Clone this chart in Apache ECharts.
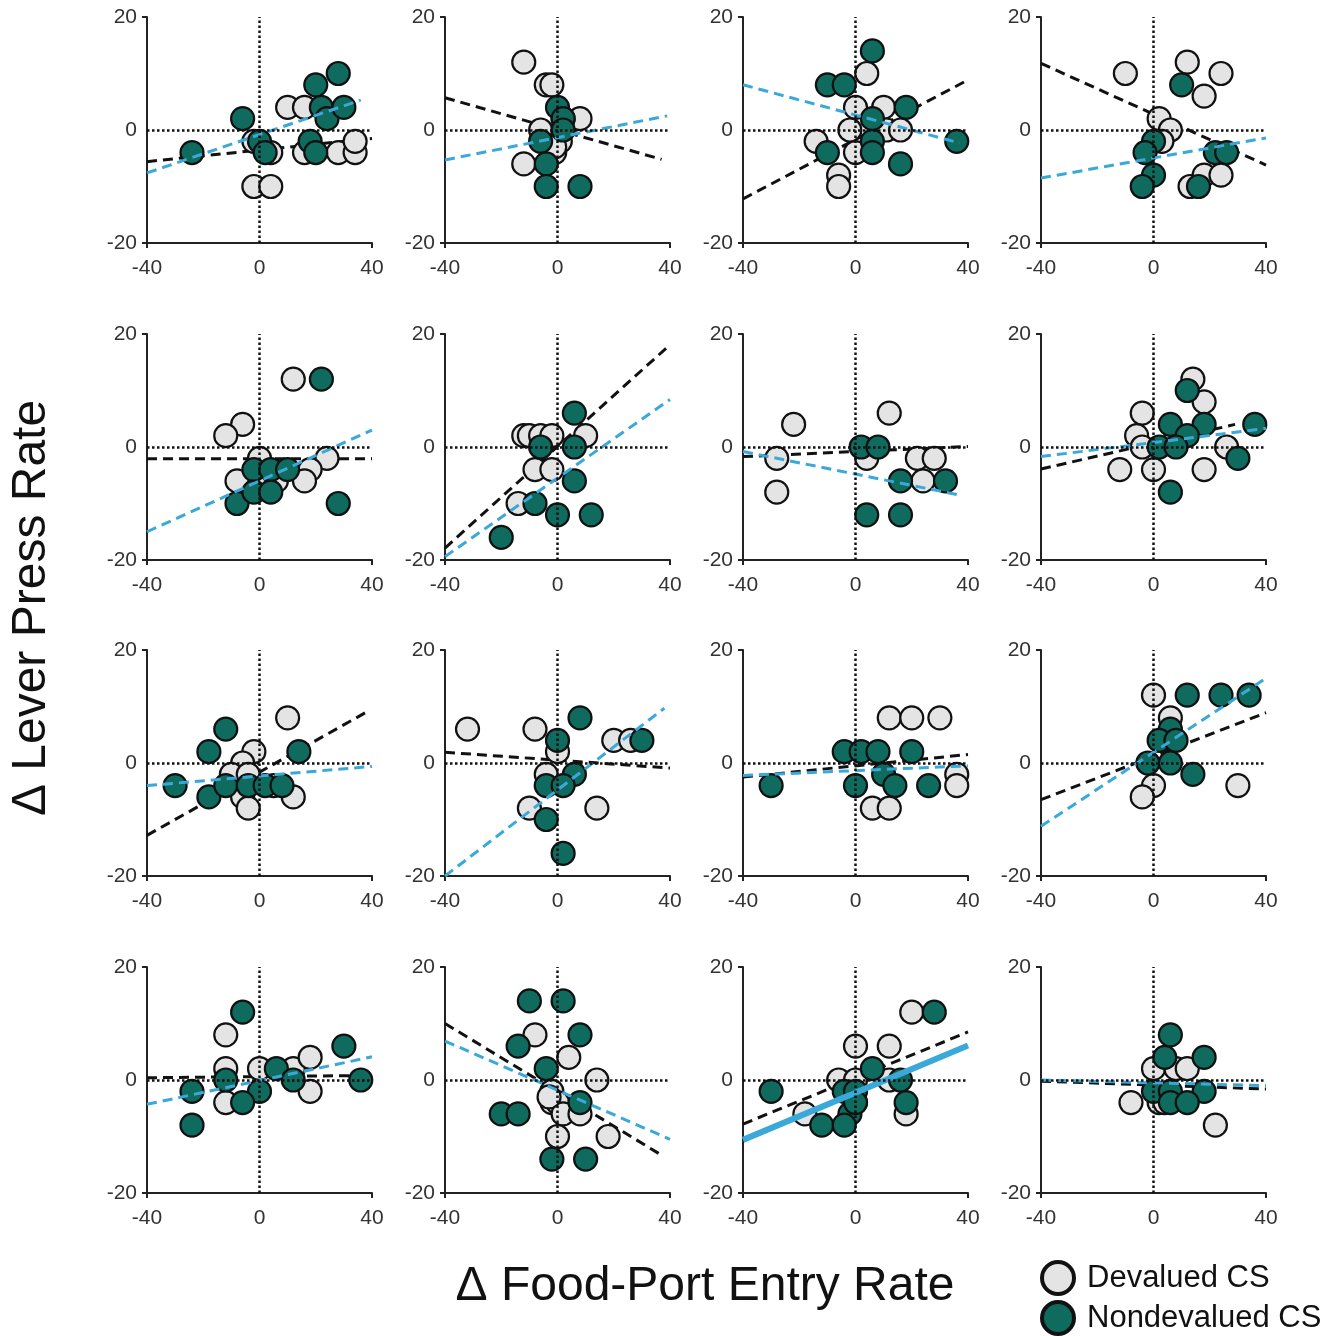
<!DOCTYPE html>
<html lang="en">
<head>
<meta charset="UTF-8">
<title>Lever press vs food-port entry</title>
<style>html,body{margin:0;padding:0;background:#fff}</style>
</head>
<body>
<div id="main" style="width:1344px;height:1336px"></div>
<script src="https://cdn.jsdelivr.net/npm/echarts@6/dist/echarts.min.js"></script>
<script>
// one entry per panel (row by row), points as [food-port change, lever press change]
var devalued = [
    [[10,4],[16,4],[-2,-2],[4,-4],[16,-4],[28,-4],[34,-4],[34,-2],[-2,-10],[4,-10]],
    [[-12,12],[-4,8],[-2,8],[8,2],[-6,0],[-12,-6],[-1,-4],[1,-2],[2,2],[-1,-3]],
    [[4,10],[0,4],[10,4],[-2,0],[11,0],[16,0],[-14,-2],[0,-4],[-6,-8],[-6,-10]],
    [[-10,10],[12,12],[24,10],[18,6],[2,2],[6,0],[3,-2],[18,-8],[24,-8],[13,-10]],
    [[12,12],[-6,4],[-12,2],[0,-2],[24,-2],[18,-4],[16,-6],[-8,-6],[2,-6],[6,-6]],
    [[-12,2],[-10,2],[-6,2],[-2,2],[10,2],[-8,-4],[-2,-4],[-14,-10]],
    [[-22,4],[-28,-2],[-28,-8],[12,6],[4,-2],[22,-2],[28,-2],[24,-6]],
    [[14,12],[18,8],[-4,6],[-6,2],[-4,0],[-12,-4],[0,-4],[18,-4],[26,0],[8,2]],
    [[10,8],[-2,2],[-6,0],[-10,-2],[-4,-2],[-6,-6],[-4,-8],[12,-6],[5,-4]],
    [[-32,6],[-8,6],[0,2],[20,4],[26,4],[-4,-2],[-10,-8],[14,-8]],
    [[12,8],[20,8],[30,8],[36,-2],[36,-4],[6,-8],[12,-8]],
    [[0,12],[6,8],[0,-4],[-4,-6],[30,-4]],
    [[-12,8],[-12,2],[0,2],[12,2],[18,4],[18,-2],[-12,-4]],
    [[-8,8],[4,4],[14,0],[-2,-2],[-2,-4],[0,-4],[2,-6],[8,-6],[0,-10],[18,-10],[-3,-3]],
    [[20,12],[0,6],[12,6],[-6,0],[0,0],[12,0],[-18,-6],[18,-6],[0,-4]],
    [[0,2],[8,2],[12,2],[-8,-4],[22,-8],[2,-4],[4,-4]]
];
var nondevalued = [
    [[-24,-4],[-6,2],[0,-2],[2,-4],[20,8],[28,10],[22,4],[24,2],[30,4],[18,-2],[20,-4]],
    [[0,4],[2,2],[2,0],[-6,-2],[-4,-6],[-4,-10],[8,-10]],
    [[6,14],[-10,8],[-4,8],[18,4],[6,2],[6,-2],[6,-4],[-10,-4],[16,-6],[36,-2]],
    [[10,8],[0,-2],[-3,-4],[0,-8],[-4,-10],[16,-10],[22,-4],[26,-4]],
    [[22,12],[-2,-4],[4,-4],[10,-4],[-8,-10],[-2,-8],[4,-8],[28,-10]],
    [[6,6],[-6,0],[6,0],[6,-6],[-8,-10],[0,-12],[12,-12],[-20,-16]],
    [[2,0],[8,0],[16,-6],[32,-6],[4,-12],[16,-12]],
    [[12,10],[6,4],[18,4],[12,2],[2,0],[8,0],[36,4],[30,-2],[6,-8]],
    [[-12,6],[-18,2],[14,2],[-30,-4],[-18,-6],[-12,-4],[-4,-4],[2,-4],[8,-4]],
    [[8,8],[0,4],[30,4],[6,-2],[-4,-4],[2,-4],[-4,-10],[2,-16]],
    [[-4,2],[2,2],[8,2],[20,2],[10,-2],[14,-4],[0,-4],[26,-4],[-30,-4]],
    [[12,12],[24,12],[34,12],[6,6],[2,4],[8,4],[-2,0],[6,0],[14,-2]],
    [[-6,12],[30,6],[6,2],[-12,0],[12,0],[36,0],[-24,-2],[0,-2],[-6,-4],[-24,-8]],
    [[-10,14],[2,14],[8,8],[-14,6],[-4,2],[8,-4],[-20,-6],[-14,-6],[-2,-14],[10,-14]],
    [[28,12],[6,2],[16,0],[-30,-2],[-4,-2],[0,-2],[18,-4],[-2,-6],[-12,-8],[-4,-8],[0,-4]],
    [[6,8],[4,4],[18,4],[0,-2],[6,-2],[18,-2],[6,-4],[12,-4]]
];
// fit lines as [x1, y1, x2, y2]
var devaluedFit = [
    [-40,-5.6,40,-1.5], [-40,5.7,37,-5.2], [-40,-12.2,39,8.6], [-40,11.8,40,-6.2],
    [-40,-2.1,40,-2.1], [-40,-17.9,40,18.1], [-40,-1.7,40,0.1], [-40,-3.9,29,4],
    [-40,-12.8,38,9], [-40,1.9,40,-0.9], [-40,-2.5,40,1.5], [-40,-6.5,40,8.9],
    [-40,0.4,38,0.8], [-40,10,36,-13], [-40,-7.8,40,8.5], [-40,-0.2,40,-1.6]
];
var nondevaluedFit = [
    [-40,-7.6,36,5.3], [-40,-5.3,39,2.5], [-40,8,37,-2.3], [-40,-8.5,40,-1.4],
    [-40,-15,40,3], [-40,-19.4,40,8.4], [-40,-0.8,38,-8.6], [-40,-1.7,40,3.3],
    [-40,-4,40,-0.6], [-40,-20,38,9.7], [-40,-2.2,40,-0.5], [-40,-11.2,40,15],
    [-40,-4.3,40,4.1], [-40,6.9,40,-10.5], [-40,-10.6,40,6.1], [-40,0,40,-1]
];
var significant = [14]; // panel drawn with a solid fit line
var xTicks = [-40, 0, 40];
var yTicks = [-20, 0, 20];

var myChart = echarts.init(document.getElementById('main'));

var font = 'Liberation Sans, Arial, sans-serif';
var grids = [], xAxes = [], yAxes = [], series = [];

for (var i = 0; i < 16; i++) {
    var row = Math.floor(i / 4), col = i % 4;
    grids.push({left: 147 + col * 298, top: 17 + Math.round(row * 316.7), width: 225, height: 226});

    xAxes.push({
        gridIndex: i, type: 'value',
        min: xTicks[0], max: xTicks[2], interval: 40,
        axisLine: {onZero: false, lineStyle: {color: '#222', width: 2}},
        axisTick: {customValues: [xTicks[0], xTicks[2]], length: 5, lineStyle: {color: '#222', width: 2}},
        axisLabel: {customValues: xTicks, fontSize: 21, color: '#333', margin: 15, fontFamily: font},
        splitLine: {show: false}
    });
    yAxes.push({
        gridIndex: i, type: 'value',
        min: yTicks[0], max: yTicks[2], interval: 20,
        axisLine: {onZero: false, lineStyle: {color: '#222', width: 2}},
        axisTick: {customValues: [yTicks[0], yTicks[2]], length: 5, lineStyle: {color: '#222', width: 2}},
        axisLabel: {customValues: yTicks, fontSize: 21, color: '#333', margin: 10, fontFamily: font},
        splitLine: {show: false}
    });

    var bf = devaluedFit[i], cf = nondevaluedFit[i];
    var solid = significant.indexOf(i) >= 0;

    series.push({
        name: 'devalued fit', type: 'line', xAxisIndex: i, yAxisIndex: i,
        data: [[bf[0], bf[1]], [bf[2], bf[3]]],
        symbol: 'none', z: 1,
        lineStyle: {color: '#111', width: 3, type: [10, 6]},
        markLine: {
            silent: true, symbol: ['none', 'none'], label: {show: false},
            lineStyle: {color: '#111', width: 2.5, type: [2.5, 2.5]},
            data: [{xAxis: 0}, {yAxis: 0}]
        }
    });
    series.push({
        name: 'Devalued CS', type: 'scatter', xAxisIndex: i, yAxisIndex: i,
        data: devalued[i], symbolSize: 23, z: 2,
        itemStyle: {color: '#e4e4e4', borderColor: '#111', borderWidth: 2.2, opacity: 1}
    });
    series.push({
        name: 'Nondevalued CS', type: 'scatter', xAxisIndex: i, yAxisIndex: i,
        data: nondevalued[i], symbolSize: 23, z: 3,
        itemStyle: {color: '#0e6b5e', borderColor: '#111', borderWidth: 2.2, opacity: 1}
    });
    series.push({
        name: 'nondevalued fit', type: 'line', xAxisIndex: i, yAxisIndex: i,
        data: [[cf[0], cf[1]], [cf[2], cf[3]]],
        symbol: 'none', z: 4,
        lineStyle: solid ? {color: '#3aa8d8', width: 6, type: 'solid'}
                         : {color: '#3aa8d8', width: 3, type: [10, 6]}
    });
}

var legendNames = ['Devalued CS', 'Nondevalued CS'];
var legends = legendNames.map(function (name, k) {
    return {
        left: 1040, top: 1260 + k * 40, padding: 0,
        itemWidth: 32, itemHeight: 32, icon: 'circle',
        itemStyle: {borderWidth: 4, borderColor: '#111'},
        textStyle: {fontSize: 31, lineHeight: 32, color: '#111', fontFamily: font, padding: [0, 0, 0, 8]},
        data: [name]
    };
});

var option = {
    backgroundColor: '#fff',
    animation: false,
    grid: grids,
    xAxis: xAxes,
    yAxis: yAxes,
    series: series,
    legend: legends,
    graphic: [
        {type: 'text', x: 32, y: 608, rotation: Math.PI / 2,
         style: {text: 'Δ Lever Press Rate', fontSize: 48, fontFamily: font, fill: '#111', align: 'center', verticalAlign: 'middle'}},
        {type: 'text', x: 705, y: 1287,
         style: {text: 'Δ Food-Port Entry Rate', fontSize: 48, fontFamily: font, fill: '#111', align: 'center', verticalAlign: 'middle'}}
    ]
};

myChart.setOption(option);
</script>
</body>
</html>
